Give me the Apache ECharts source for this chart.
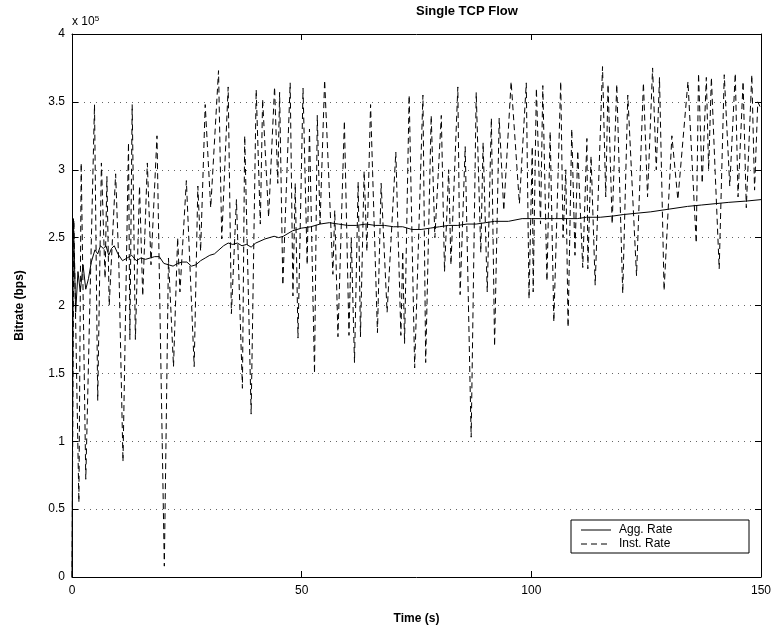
<!DOCTYPE html>
<html>
<head>
<meta charset="utf-8">
<script src="https://cdn.jsdelivr.net/npm/echarts@6/dist/echarts.min.js"></script>
<style>
html,body{margin:0;padding:0;background:#fff;}
#chart{width:778px;height:632px;}
</style>
</head>
<body>
<div id="chart"></div>
<script>
// Values in units of 1e5 bps
const instTime = [0,0.4,1.5,2.0,3.0,4.9,5.6,6.4,7.2,7.6,8.1,9.5,10.2,11.1,12.3,12.6,13.1,13.8,14.7,15.4,16.4,17.2,18.5,20.1,21.0,22.1,23.0,23.5,24.9,26.6,27.4,28.0,29.0,30.2,31.9,32.6,34.0,34.7,35.8,37.1,37.6,39.0,40.1,41.0,41.5,42.8,44.1,44.8,45.2,45.9,47.5,48.1,48.6,49.2,50.3,51.2,51.7,52.8,53.4,54.0,55.0,56.8,57.2,57.9,59.3,60.3,60.8,61.5,62.3,62.8,63.6,64.2,65.0,66.5,67.3,68.6,70.5,71.6,72.0,72.4,73.4,74.6,76.4,77.0,78.2,79.0,80.4,81.1,82.0,82.5,84.0,84.5,85.6,86.9,88.0,89.0,89.5,90.4,91.3,92.0,93.0,94.0,95.6,97.4,98.9,99.5,100.2,100.4,101.1,102.0,102.5,103.4,104.1,104.9,106.4,106.9,107.5,108.0,108.8,109.5,110.1,111.2,112.1,112.3,113.0,113.9,115.5,116.2,116.7,117.6,118.6,119.9,121.0,122.9,124.4,125.3,126.4,127.2,127.9,128.9,130.6,131.9,134.1,135.9,136.4,137.2,138.1,138.6,139.2,140.0,140.9,142.0,143.2,144.4,145.0,146.1,146.8,148.0,148.6,149.3,150.0];
const instRate = [0,2.63,0.55,3.05,0.72,3.48,1.3,3.05,2.2,2.95,2.0,2.97,2.3,0.85,3.2,1.75,3.48,1.75,2.88,2.07,3.05,2.3,3.25,0.08,2.35,1.55,2.5,2.1,2.92,1.55,2.88,2.4,3.48,2.72,3.73,2.49,3.61,1.94,2.78,1.39,3.25,1.2,3.59,2.6,3.52,2.65,3.61,2.9,3.57,2.15,3.64,2.07,2.9,1.76,3.6,2.3,3.3,1.5,3.4,2.6,3.66,2.23,2.7,1.77,3.36,1.78,2.5,1.58,2.91,1.77,2.99,2.4,3.48,1.8,2.9,1.95,3.13,1.78,2.4,1.72,3.55,1.54,3.55,1.58,3.4,2.5,3.4,2.25,3.0,2.3,3.61,2.08,3.17,1.03,3.57,2.39,3.2,2.1,3.38,1.7,3.38,2.7,3.65,2.75,3.64,2.05,3.17,2.1,3.6,2.6,3.62,2.18,3.28,1.88,3.65,2.5,3.0,1.84,3.3,2.37,3.14,2.28,3.23,2.27,3.1,2.15,3.76,2.8,3.63,2.6,3.63,2.09,3.55,2.22,3.64,2.8,3.75,3.0,3.68,2.11,3.25,2.78,3.65,2.46,3.71,2.9,3.68,3.0,3.68,3.0,2.27,3.7,2.88,3.71,2.8,3.65,2.72,3.7,2.85,3.5,3.45];

const aggTime = [0,0.3,0.8,1.3,1.8,2.4,3.0,3.6,4.2,5.0,5.6,6.2,6.8,7.4,8.0,8.6,9.2,10,11,12,13,14,15,16,17,18,19,20,21,22,23,24,25,26,27,28,29,30,31,32,33,34,35,36,37,38,39,40,42,44,45,46,48,50,52,54,56,58,60,62,64,66,68,70,72,74,76,78,80,82,84,86,88,90,92,95,98,100,102,105,108,110,112,115,118,120,123,126,130,134,137,140,143,147,150];
const aggRate = [0,2.64,1.95,2.25,2.1,2.3,2.12,2.2,2.32,2.41,2.38,2.44,2.42,2.44,2.37,2.42,2.44,2.38,2.33,2.35,2.37,2.33,2.35,2.34,2.35,2.36,2.36,2.31,2.3,2.29,2.31,2.32,2.32,2.29,2.3,2.33,2.35,2.37,2.38,2.41,2.44,2.46,2.45,2.46,2.44,2.45,2.43,2.46,2.49,2.51,2.5,2.51,2.55,2.57,2.58,2.6,2.61,2.6,2.59,2.59,2.6,2.59,2.59,2.58,2.58,2.56,2.56,2.57,2.58,2.59,2.59,2.6,2.6,2.61,2.62,2.62,2.64,2.64,2.64,2.64,2.64,2.64,2.65,2.65,2.66,2.67,2.68,2.69,2.71,2.73,2.74,2.75,2.76,2.77,2.78];

const yTicks = ['0','0.5','1','1.5','2','2.5','3','3.5','4'];
const xTicks = ['0','50','100','150'];
const seriesNames = ['Agg. Rate','Inst. Rate'];
const SCALE = 1e5;

const FONT = 'Liberation Sans, Arial, Helvetica, sans-serif';

function zip(ts, vs){ return ts.map((t,i)=>[t, vs[i]*SCALE]); }

const chart = echarts.init(document.getElementById('chart'), null, {renderer:'canvas'});

const axisLineStyle = {color:'#000', width:1};
const LG = {x:571, y:520, w:178, h:33};
chart.setOption({
  animation:false,
  backgroundColor:'#fff',
  textStyle:{fontFamily:FONT},
  grid:{left:72, right:17, top:34, bottom:55, containLabel:false},
  graphic:[
    {type:'text', left:416, top:5, style:{text:'Single TCP Flow', font:'bold 13px '+FONT, fill:'#000', textAlign:'center'}},
    {type:'text', left:72, top:15, style:{text:'x 10{s|5}', rich:{s:{fontSize:8, verticalAlign:'top', padding:[0,0,6,0], fontFamily:FONT}}, font:'12px '+FONT, fill:'#000'}},
    {type:'rect', z:100, shape:{x:LG.x, y:LG.y, width:LG.w, height:LG.h}, style:{fill:'#fff', stroke:'#000', lineWidth:1}},
    {type:'line', z:101, shape:{x1:LG.x+10, y1:LG.y+10, x2:LG.x+40, y2:LG.y+10}, style:{stroke:'#000', lineWidth:1}},
    {type:'line', z:101, shape:{x1:LG.x+10, y1:LG.y+24, x2:LG.x+40, y2:LG.y+24}, style:{stroke:'#000', lineWidth:1, lineDash:[6,4]}},
    {type:'text', z:101, x:LG.x+48, y:LG.y+10, style:{text:seriesNames[0], font:'12px '+FONT, fill:'#000', textVerticalAlign:'middle'}},
    {type:'text', z:101, x:LG.x+48, y:LG.y+24, style:{text:seriesNames[1], font:'12px '+FONT, fill:'#000', textVerticalAlign:'middle'}}
  ],
  xAxis:[{
    type:'value', min:0, max:150, interval:50,
    name:'Time (s)', nameLocation:'middle', nameGap:36,
    nameTextStyle:{fontWeight:'bold', fontSize:12, color:'#000'},
    axisLine:{show:true, onZero:false, lineStyle:axisLineStyle},
    axisTick:{show:true, inside:true, length:6, lineStyle:axisLineStyle},
    axisLabel:{color:'#000', fontSize:12, margin:8, formatter:(v)=>xTicks[Math.round(v/50)]},
    splitLine:{show:false}
  },{
    type:'value', min:0, max:150, interval:50, position:'top',
    axisLine:{show:true, onZero:false, lineStyle:axisLineStyle},
    axisTick:{show:true, inside:true, length:6, lineStyle:axisLineStyle},
    axisLabel:{show:false}, splitLine:{show:false}
  }],
  yAxis:[{
    type:'value', min:0, max:4*SCALE, interval:0.5*SCALE,
    name:'Bitrate (bps)', nameLocation:'middle', nameGap:46,
    nameTextStyle:{fontWeight:'bold', fontSize:12, color:'#000'},
    axisLine:{show:true, onZero:false, lineStyle:axisLineStyle},
    axisTick:{show:true, inside:true, length:6, lineStyle:axisLineStyle},
    axisLabel:{color:'#000', fontSize:12, margin:7, formatter:(v)=>yTicks[Math.round(v/(0.5*SCALE))]},
    splitLine:{show:true, lineStyle:{color:'#000', type:[1,5], width:1, opacity:0.6}}
  },{
    type:'value', min:0, max:4*SCALE, interval:0.5*SCALE, position:'right',
    axisLine:{show:true, onZero:false, lineStyle:axisLineStyle},
    axisTick:{show:true, inside:true, length:6, lineStyle:axisLineStyle},
    axisLabel:{show:false}, splitLine:{show:false}
  }],
  series:[
    {name:seriesNames[0], type:'line', data:zip(aggTime, aggRate), symbol:'none', z:3,
     lineStyle:{color:'#000', width:1, type:'solid'}, itemStyle:{color:'#000'}},
    {name:seriesNames[1], type:'line', data:zip(instTime, instRate), symbol:'none', z:2,
     lineStyle:{color:'#000', width:1, type:[6,4]}, itemStyle:{color:'#000'}}
  ]
});
</script>
</body>
</html>
